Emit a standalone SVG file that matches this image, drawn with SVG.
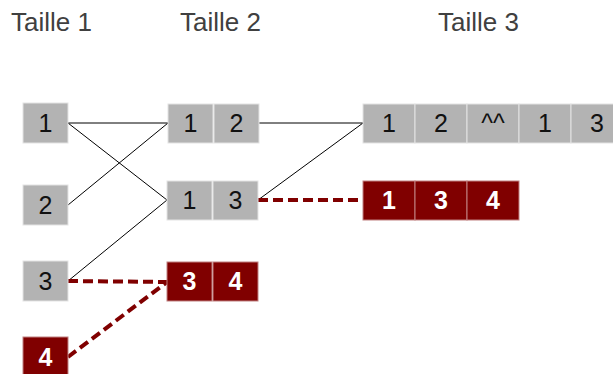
<svg xmlns="http://www.w3.org/2000/svg" width="613" height="374" viewBox="0 0 613 374">
<style>
.title{font-family:"Liberation Sans",Arial,sans-serif;font-size:26px;fill:#404040}
.g rect{fill:#b3b3b3;stroke:#e3e3e3;stroke-width:1}
.r rect{fill:#800000;stroke:#c08080;stroke-width:1}
.g text{font-family:"Liberation Sans",Arial,sans-serif;font-size:25px;fill:#111;text-anchor:middle}
.r text{font-family:"Liberation Sans",Arial,sans-serif;font-size:25px;font-weight:bold;fill:#fff;text-anchor:middle}
.solid{stroke:#000;stroke-width:1;fill:none}
.dash{stroke:#800000;stroke-width:4;stroke-dasharray:10,5;fill:none}
</style>
<rect width="613" height="374" fill="#fff"/>
<text class="title" x="11" y="31">Taille 1</text>
<text class="title" x="180" y="31">Taille 2</text>
<text class="title" x="438" y="31">Taille 3</text>
<g id="connectors">
<line class="solid" x1="68" y1="123" x2="168" y2="123"/>
<line class="solid" x1="68" y1="123" x2="167" y2="200"/>
<line class="solid" x1="68" y1="205" x2="168" y2="123"/>
<line class="solid" x1="68" y1="281" x2="167" y2="200"/>
<line class="solid" x1="259" y1="123" x2="363" y2="123"/>
<line class="solid" x1="258" y1="200" x2="363" y2="123"/>
<line class="dash" x1="68" y1="281" x2="167" y2="282"/>
<line class="dash" x1="68" y1="357" x2="167" y2="282"/>
<line class="dash" x1="258" y1="200" x2="363" y2="200"/>
</g>
<g id="n1" class="g"><rect x="23" y="103" width="45" height="40"/><text x="45.5" y="132">1</text></g>
<g id="n2" class="g"><rect x="23" y="185" width="45" height="40"/><text x="45.5" y="214">2</text></g>
<g id="n3" class="g"><rect x="23" y="261" width="45" height="40"/><text x="45.5" y="290">3</text></g>
<g id="n4" class="r"><rect x="23" y="337" width="45" height="40"/><text x="45.5" y="366">4</text></g>
<g id="n12" class="g">
<rect x="168" y="104" width="45" height="39"/><text x="190.5" y="132">1</text>
<rect x="214" y="104" width="45" height="39"/><text x="236.5" y="132">2</text>
</g>
<g id="n13" class="g">
<rect x="167" y="181" width="45" height="39"/><text x="189.5" y="209">1</text>
<rect x="213" y="181" width="45" height="39"/><text x="235.5" y="209">3</text>
</g>
<g id="n34" class="r">
<rect x="167" y="262" width="45" height="39"/><text x="189.5" y="290">3</text>
<rect x="213" y="262" width="45" height="39"/><text x="235.5" y="290">4</text>
</g>
<g id="n12x13" class="g">
<rect x="363" y="104" width="52" height="39"/><text x="389" y="132">1</text>
<rect x="415" y="104" width="52" height="39"/><text x="441" y="132">2</text>
<rect x="467" y="104" width="52" height="39"/><text x="493" y="132">^^</text>
<rect x="519" y="104" width="52" height="39"/><text x="545" y="132">1</text>
<rect x="571" y="104" width="52" height="39"/><text x="597" y="132">3</text>
</g>
<g id="n134" class="r">
<rect x="363" y="181" width="52" height="39"/><text x="389" y="209">1</text>
<rect x="415" y="181" width="52" height="39"/><text x="441" y="209">3</text>
<rect x="467" y="181" width="52" height="39"/><text x="493" y="209">4</text>
</g>
</svg>
